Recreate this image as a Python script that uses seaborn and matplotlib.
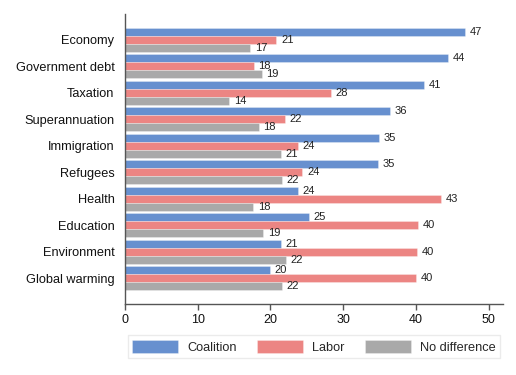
import matplotlib
matplotlib.use("Agg")
import matplotlib.pyplot as plt
import pandas as pd
import seaborn as sns

issues = ["Economy", "Government debt", "Taxation", "Superannuation", "Immigration",
          "Refugees", "Health", "Education", "Environment", "Global warming"]
coalition = [46.8, 44.4, 41.1, 36.4, 34.9, 34.8, 23.8, 25.3, 21.4, 19.9]
labor = [20.8, 17.7, 28.3, 22.0, 23.8, 24.4, 43.4, 40.3, 40.1, 40.0]
no_difference = [17.2, 18.8, 14.3, 18.4, 21.4, 21.6, 17.6, 19.0, 22.1, 21.6]
series = ["Coalition", "Labor", "No difference"]
colors = ["#6790cf", "#ec8583", "#a9a9a9"]

df = pd.DataFrame({"issue": issues, "Coalition": coalition, "Labor": labor,
                   "No difference": no_difference})
long = df.melt(id_vars="issue", var_name="party", value_name="pct")

sns.set_style("white")
plt.rcParams["font.family"] = ["Liberation Sans", "DejaVu Sans"]

fig = plt.figure(figsize=(5.16, 3.75), dpi=100)
ax = fig.add_axes([0.242, 0.189, 0.733, 0.774])

sns.barplot(data=long, y="issue", x="pct", hue="party", order=issues,
            hue_order=series, palette=colors, saturation=1, orient="h",
            width=0.92, gap=0, edgecolor=(1, 1, 1, 0.5), linewidth=0.4, ax=ax)

for cont in ax.containers:
    ax.bar_label(cont, fmt="%.0f", padding=3.5, fontsize=8, color="#222222")

ax.set_xlim(0, 52)
ax.set_ylim(9.98, -0.98)
ax.set_xticks([0, 10, 20, 30, 40, 50])
ax.set_xlabel("")
ax.set_ylabel("")
ax.tick_params(axis="x", bottom=True, length=4, width=1, color="#555555",
               labelsize=9, pad=3, labelcolor="#111111")
ax.tick_params(axis="y", left=False, labelsize=9.2, pad=4, labelcolor="#111111")
for side in ["top", "right"]:
    ax.spines[side].set_visible(False)
for side in ["left", "bottom"]:
    ax.spines[side].set_color("#555555")
    ax.spines[side].set_linewidth(1)

ax.legend(loc="upper center", bbox_to_anchor=(0.5, -0.085), ncol=3, frameon=True,
          fontsize=9.2, handlelength=3.6, handleheight=1.2, columnspacing=1.6,
          handletextpad=0.7, fancybox=False, edgecolor="#e6e6e6", borderpad=0.35)

fig.savefig("out.png", dpi=100)
